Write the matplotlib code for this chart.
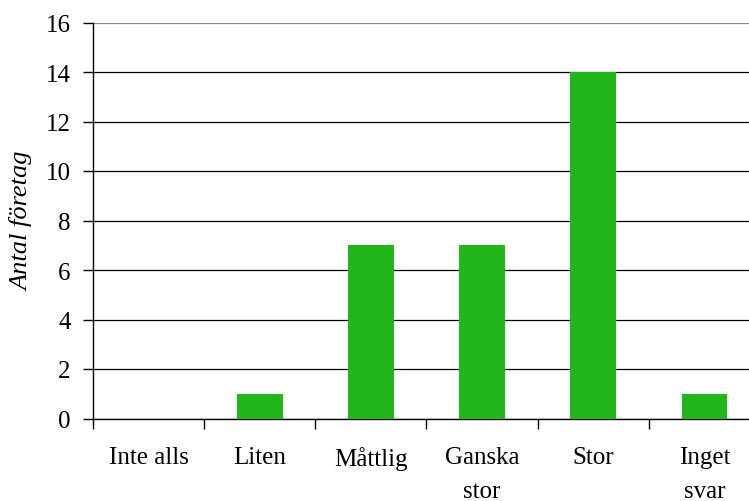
import numpy as np
import matplotlib.pyplot as plt

# svarskategorier och antal företag
categories = ["Inte alls", "Liten", "Måttlig", "Ganska\nstor", "Stor", "Inget\nsvar"]
counts = [0, 1, 7, 7, 14, 1]
yticks = [0, 2, 4, 6, 8, 10, 12, 14, 16]

plt.rcParams['font.family'] = ['Liberation Serif', 'DejaVu Serif']

fig = plt.figure(figsize=(7.49, 5.02), dpi=100)
# plot area runs past the right edge of the figure
ax = fig.add_axes([93 / 749, (502 - 419.5) / 502, 667 / 749, 396 / 502])

x = np.arange(len(categories))
ax.bar(x, counts, width=0.41, color='#21B71B', zorder=3)

ax.set_xlim(-0.5, len(categories) - 0.5)
ax.set_ylim(0, 16)
ax.set_yticks(yticks)
ax.set_yticklabels([str(v) for v in yticks], fontsize=18)

ax.set_xticks(x)
ax.set_xticklabels(categories, fontsize=18, linespacing=1.7)
ax.set_xticks(np.arange(len(categories) + 1) - 0.5, minor=True)
ax.tick_params(axis='x', which='major', length=0, pad=20)
ax.tick_params(axis='x', which='minor', length=7, width=1, color='black')
ax.tick_params(axis='y', length=7, width=1, color='black', pad=9)

ax.yaxis.grid(True, color='black', linewidth=0.9, zorder=1)
ax.yaxis.get_gridlines()[-1].set_color('#888888')
for side in ['top', 'right']:
    ax.spines[side].set_visible(False)
ax.spines['left'].set_linewidth(1)
ax.spines['bottom'].set_linewidth(1)

ax.set_ylabel("Antal företag", fontsize=19, style='italic', labelpad=9)

plt.savefig("out.png", dpi=100)
